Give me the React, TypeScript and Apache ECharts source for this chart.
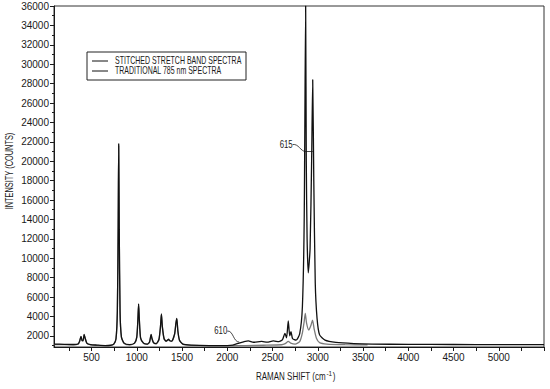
import React, { useEffect, useRef } from "react";
import * as echarts from "echarts";

const FONT = "'Liberation Sans', Arial, sans-serif";

const seriesNames = ["STITCHED STRETCH BAND SPECTRA", "TRADITIONAL 785 nm SPECTRA"];

// [Raman shift (cm-1), intensity (counts)]
const stitchedPoints: number[][] = [
  [85, 1150], [200, 1130], [300, 1110], [350, 1160], [368, 1450], [383, 1950], [396, 1500], [406, 1500],
  [418, 2150], [430, 1750], [448, 1250], [490, 1100], [560, 1050], [650, 1000], [710, 1030], [745, 1150],
  [770, 1700], [785, 4500], [794, 13000], [800, 21800], [806, 13000], [815, 4500], [830, 1900], [860, 1250],
  [920, 1100], [975, 1250], [1000, 1900], [1012, 3700], [1020, 5300], [1028, 3700], [1042, 1800], [1075, 1250],
  [1115, 1150], [1140, 1350], [1151, 1850], [1158, 2150], [1166, 1800], [1185, 1300], [1215, 1200], [1245, 1650],
  [1262, 3000], [1272, 4250], [1283, 2900], [1302, 1700], [1325, 1450], [1343, 1600], [1352, 1650], [1362, 1520],
  [1385, 1450], [1418, 2200], [1432, 3300], [1442, 3800], [1454, 2500], [1472, 1550], [1510, 1150], [1600, 1050],
  [1800, 1000], [2000, 1000], [2060, 1050], [2130, 1250], [2180, 1380], [2232, 1480], [2290, 1340], [2380, 1420],
  [2440, 1350], [2508, 1480], [2570, 1400], [2610, 1600], [2637, 2250], [2655, 1800], [2674, 3550], [2690, 2000],
  [2704, 2420], [2722, 1700], [2760, 1550], [2800, 2200], [2830, 5000], [2850, 14000], [2866, 36000], [2873, 20000],
  [2882, 12000], [2895, 8500], [2915, 11000], [2932, 20000], [2944, 28400], [2956, 18000], [2972, 7500], [2992, 3800],
  [3020, 2100], [3080, 1550], [3200, 1320], [3400, 1200], [3600, 1150], [4000, 1120], [4500, 1110], [5000, 1100],
  [5500, 1100],
];

const traditionalPoints: number[][] = [
  [85, 1100], [200, 1090], [300, 1080], [350, 1130], [368, 1420], [383, 1900], [396, 1480], [406, 1480],
  [418, 2100], [430, 1720], [448, 1220], [490, 1070], [560, 1020], [650, 980], [710, 1000], [745, 1120],
  [770, 1650], [785, 4400], [794, 12800], [800, 21600], [806, 12800], [815, 4400], [830, 1850], [860, 1220],
  [920, 1070], [975, 1220], [1000, 1850], [1012, 3650], [1020, 5250], [1028, 3650], [1042, 1750], [1075, 1220],
  [1115, 1120], [1140, 1320], [1151, 1800], [1158, 2100], [1166, 1750], [1185, 1270], [1215, 1170], [1245, 1620],
  [1262, 2950], [1272, 4200], [1283, 2850], [1302, 1670], [1325, 1420], [1343, 1570], [1352, 1620], [1362, 1490],
  [1385, 1420], [1418, 2150], [1432, 3250], [1442, 3750], [1454, 2450], [1472, 1520], [1510, 1120], [1600, 1020],
  [1800, 980], [2000, 980], [2200, 1000], [2400, 1030], [2600, 1080], [2640, 1200], [2674, 1420], [2700, 1250],
  [2750, 1150], [2800, 1400], [2830, 2300], [2850, 3500], [2862, 4320], [2876, 3300], [2900, 2600], [2925, 3100],
  [2942, 3630], [2960, 2700], [2985, 1750], [3020, 1300], [3100, 1150], [3300, 1090], [3550, 1070],
];

const xLabelValues = [500, 1000, 1500, 2000, 2500, 3000, 3500, 4000, 4500, 5000];
const xTickValues = [250, 500, 750, 1000, 1250, 1500, 1750, 2000, 2250, 2500, 2750, 3000, 3250, 3500, 3750, 4000, 4250, 4500, 4750, 5000, 5250, 5500];
const yLabelValues = [2000, 4000, 6000, 8000, 10000, 12000, 14000, 16000, 18000, 20000, 22000, 24000, 26000, 28000, 30000, 32000, 34000, 36000];
const yMinorTickValues = [1000, 3000, 5000, 7000, 9000, 11000, 13000, 15000, 17000, 19000, 21000, 23000, 25000, 27000, 29000, 31000, 33000, 35000];

const xTitle = "RAMAN SHIFT (cm";
const xTitleSup = "-1";
const yTitle = "INTENSITY (COUNTS)";

// annotation anchors in data space
const note610 = { text: "610", at: [2110, 1150] };
const note615 = { text: "615", at: [2866, 21000], to: [2944, 21000] };

const X_MIN = 85;
const X_MAX = 5500;
const Y_MIN = 850;
const Y_MAX = 36000;

export default function App() {
  const ref = useRef<HTMLDivElement>(null);

  useEffect(() => {
    if (!ref.current) return;
    const chart = echarts.init(ref.current, null, { renderer: "svg" });
    const ink = "#1a1a1a";
    const yBase = {
      type: "value",
      min: Y_MIN,
      max: Y_MAX,
      position: "left",
      splitLine: { show: false },
    };
    chart.setOption({
      animation: false,
      backgroundColor: "#ffffff",
      grid: {
        left: 54, right: 6, top: 6, bottom: 42,
        show: true, borderColor: "#333", borderWidth: 1,
        containLabel: false, outerBoundsMode: "none",
      },
      xAxis: {
        type: "value",
        min: X_MIN,
        max: X_MAX,
        axisLine: { lineStyle: { color: ink, width: 1 } },
        axisTick: { length: 4, lineStyle: { color: ink }, customValues: xTickValues },
        axisLabel: {
          fontFamily: FONT, fontSize: 10, color: ink, margin: 5,
          customValues: xLabelValues, formatter: (v: number) => String(v),
        },
        splitLine: { show: false },
      },
      yAxis: [
        {
          ...yBase,
          axisLine: { show: true, lineStyle: { color: ink, width: 1 } },
          axisTick: { show: true, length: 4, lineStyle: { color: ink }, customValues: yLabelValues },
          axisLabel: {
            fontFamily: FONT, fontSize: 10, color: ink, margin: 5,
            customValues: yLabelValues, formatter: (v: number) => String(v),
          },
        },
        {
          ...yBase,
          axisLine: { show: false },
          axisTick: { show: true, length: 2, lineStyle: { color: ink }, customValues: yMinorTickValues },
          axisLabel: { show: false },
        },
      ],
      series: [
        {
          name: seriesNames[1],
          type: "line",
          data: traditionalPoints,
          symbol: "none",
          smooth: 0.2,
          lineStyle: { color: "#7a7a7a", width: 1.3 },
          itemStyle: { color: "#7a7a7a" },
          z: 2,
        },
        {
          name: seriesNames[0],
          type: "line",
          data: stitchedPoints,
          symbol: "none",
          smooth: 0.2,
          lineStyle: { color: "#111", width: 1.3 },
          itemStyle: { color: "#111" },
          z: 3,
        },
      ],
    });

    const px = (p: number[]) => chart.convertToPixel({ xAxisIndex: 0, yAxisIndex: 0 }, p) as number[];
    const a610 = px(note610.at);
    const a615 = px(note615.at);
    const b615 = px(note615.to);
    const narrow = 0.7;
    const textStyle = { fontFamily: FONT, fontSize: 10, fill: ink };

    const legendX = 87;
    const legendY = 52;
    const legendElems: any[] = [];
    seriesNames.forEach((name, i) => {
      const ry = legendY + 9 + i * 10;
      legendElems.push({
        type: "line",
        z: 11,
        shape: { x1: legendX + 5, y1: ry, x2: legendX + 21, y2: ry },
        style: { stroke: "#111", lineWidth: 1 },
      });
      legendElems.push({
        type: "text",
        z: 11,
        x: legendX + 28,
        y: ry,
        scaleX: narrow,
        style: { ...textStyle, text: name, align: "left", verticalAlign: "middle" },
      });
    });

    chart.setOption({
      graphic: [
        {
          type: "rect",
          z: 10,
          shape: { x: legendX, y: legendY, width: 159, height: 28 },
          style: { fill: "#fff", stroke: "#222", lineWidth: 1 },
        },
        ...legendElems,
        {
          type: "text",
          x: 10,
          y: 171,
          rotation: Math.PI / 2,
          scaleX: 0.74,
          style: { ...textStyle, text: yTitle, align: "center", verticalAlign: "middle" },
        },
        {
          type: "text",
          x: 256,
          y: 377,
          scaleX: 0.8,
          style: { ...textStyle, text: xTitle, align: "left", verticalAlign: "middle" },
        },
        {
          type: "text",
          x: 256 + 88 * 0.8,
          y: 373,
          scaleX: 0.8,
          style: { ...textStyle, fontSize: 8, text: xTitleSup, align: "left", verticalAlign: "middle" },
        },
        {
          type: "text",
          x: 256 + 96 * 0.8,
          y: 377,
          scaleX: 0.8,
          style: { ...textStyle, text: ")", align: "left", verticalAlign: "middle" },
        },
        {
          type: "text",
          x: a610[0] - 10,
          y: a610[1] - 13,
          scaleX: 0.78,
          style: { ...textStyle, text: note610.text, align: "right", verticalAlign: "middle" },
        },
        {
          type: "bezierCurve",
          shape: {
            x1: a610[0] - 10, y1: a610[1] - 13,
            cpx1: a610[0] - 4, cpy1: a610[1] - 14,
            cpx2: a610[0] - 4, cpy2: a610[1] - 2,
            x2: a610[0] + 2, y2: a610[1] - 2,
          },
          style: { stroke: ink, lineWidth: 0.8, fill: "none" },
        },
        {
          type: "text",
          x: a615[0] - 13,
          y: a615[1] - 7,
          scaleX: 0.78,
          style: { ...textStyle, text: note615.text, align: "right", verticalAlign: "middle" },
        },
        {
          type: "bezierCurve",
          shape: {
            x1: a615[0] - 13, y1: a615[1] - 7,
            cpx1: a615[0] - 7, cpy1: a615[1] - 8,
            cpx2: a615[0] - 5, cpy2: a615[1],
            x2: a615[0], y2: a615[1],
          },
          style: { stroke: ink, lineWidth: 0.8, fill: "none" },
        },
        {
          type: "line",
          shape: { x1: a615[0], y1: a615[1], x2: b615[0], y2: b615[1] },
          style: { stroke: ink, lineWidth: 0.8 },
        },
      ],
    });

    return () => chart.dispose();
  }, []);

  return (
    <div
      ref={ref}
      style={{ position: "absolute", left: 0, top: 0, width: 550, height: 389, background: "#fff" }}
    />
  );
}
